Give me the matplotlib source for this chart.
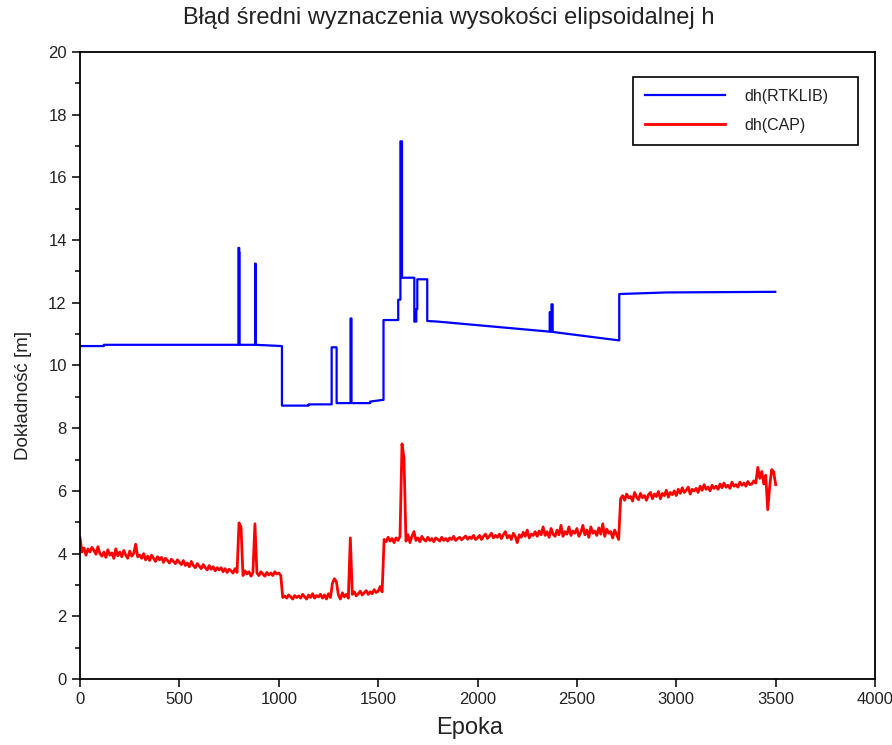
import numpy as np
import matplotlib
matplotlib.use('Agg')
import matplotlib.pyplot as plt
from matplotlib.ticker import MultipleLocator

plt.rcParams['font.family'] = ['Liberation Sans', 'DejaVu Sans']

# RTKLIB - step-like series (epoch, value)
rtk_epochs = [0, 120, 120, 797, 797, 801, 801, 803, 803, 881, 881, 884, 884,
              1016, 1016, 1150, 1150, 1266, 1266, 1291, 1291, 1361, 1361, 1366,
              1366, 1460, 1460, 1520, 1527, 1527, 1601, 1601, 1612, 1612, 1620,
              1620, 1682, 1682, 1692, 1692, 1697, 1697, 1747, 1747, 1800, 2363,
              2363, 2368, 2368, 2372, 2372, 2378, 2378, 2713, 2713, 2950, 3498]
rtk_values = [10.62, 10.62, 10.66, 10.66, 13.75, 13.75, 13.6, 13.6, 10.66, 10.66,
              13.25, 13.25, 10.66, 10.62, 8.72, 8.72, 8.76, 8.76, 10.58, 10.58,
              8.8, 8.8, 11.5, 11.5, 8.8, 8.8, 8.85, 8.9, 8.9, 11.45, 11.45, 12.1,
              12.1, 17.15, 17.15, 12.8, 12.8, 11.4, 11.4, 11.8, 11.8, 12.75,
              12.75, 11.42, 11.40, 11.08, 11.7, 11.7, 11.08, 11.08, 11.95, 11.95,
              11.07, 10.8, 12.28, 12.33, 12.35]

# CAP - one value every 10 epochs
cap_step = 10
cap_values = [
    4.50, 4.05, 4.18, 3.95, 4.15, 4.05, 4.20, 4.10, 3.98, 4.22,
    4.00, 3.92, 4.05, 3.88, 4.12, 3.95, 4.02, 3.85, 4.15, 3.93,
    4.05, 3.90, 4.10, 3.95, 3.85, 4.08, 3.92, 4.00, 4.30, 3.90,
    3.95, 3.85, 4.00, 3.80, 3.92, 3.78, 3.95, 3.85, 3.75, 3.90,
    3.80, 3.88, 3.72, 3.85, 3.78, 3.70, 3.82, 3.75, 3.68, 3.80,
    3.72, 3.65, 3.78, 3.62, 3.70, 3.58, 3.75, 3.62, 3.55, 3.68,
    3.60, 3.52, 3.65, 3.55, 3.48, 3.62, 3.50, 3.58, 3.45, 3.55,
    3.48, 3.55, 3.42, 3.52, 3.40, 3.50, 3.45, 3.38, 3.52, 3.40,
    4.98, 4.85, 3.30, 3.45, 3.35, 3.42, 3.28, 3.40, 4.95, 3.38,
    3.30, 3.42, 3.35, 3.28, 3.40, 3.32, 3.38, 3.30, 3.42, 3.35,
    3.38, 3.30, 2.60, 2.65, 2.58, 2.68, 2.62, 2.55, 2.66, 2.60,
    2.65, 2.58, 2.70, 2.62, 2.55, 2.68, 2.60, 2.72, 2.58, 2.66,
    2.62, 2.70, 2.58, 2.68, 2.55, 2.72, 2.60, 3.05, 3.20, 3.10,
    2.68, 2.55, 2.75, 2.62, 2.70, 2.58, 4.50, 2.70, 2.78, 2.65,
    2.72, 2.80, 2.68, 2.75, 2.82, 2.70, 2.78, 2.72, 2.85, 2.76,
    2.80, 2.95, 2.78, 4.45, 4.38, 4.52, 4.40, 4.48, 4.35, 4.50,
    4.42, 4.55, 7.50, 7.05, 4.40, 4.60, 4.35, 4.55, 4.70, 4.42,
    4.50, 4.38, 4.55, 4.45, 4.40, 4.52, 4.42, 4.48, 4.38, 4.50,
    4.45, 4.40, 4.52, 4.42, 4.48, 4.40, 4.50, 4.45, 4.55, 4.42,
    4.48, 4.52, 4.44, 4.50, 4.56, 4.46, 4.53, 4.48, 4.58, 4.45,
    4.50, 4.58, 4.45, 4.55, 4.62, 4.48, 4.56, 4.65, 4.50, 4.58,
    4.52, 4.62, 4.48, 4.60, 4.70, 4.50, 4.58, 4.45, 4.65, 4.55,
    4.35, 4.60, 4.52, 4.68, 4.55, 4.75, 4.50, 4.62, 4.58, 4.70,
    4.55, 4.72, 4.60, 4.85, 4.58, 4.70, 4.52, 4.80, 4.62, 4.55,
    4.75, 4.60, 4.90, 4.55, 4.70, 4.62, 4.85, 4.58, 4.72, 4.65,
    4.80, 4.55, 4.68, 4.90, 4.60, 4.75, 4.52, 4.85, 4.65, 4.72,
    4.58, 4.82, 4.62, 4.95, 4.55, 4.78, 4.65, 4.70, 4.50, 4.75,
    4.60, 4.45, 5.75, 5.85, 5.70, 5.90, 5.78, 5.82, 5.68, 5.95,
    5.80, 5.72, 5.92, 5.78, 5.85, 5.70, 5.88, 5.95, 5.75, 5.90,
    5.82, 5.98, 5.75, 5.92, 5.85, 6.02, 5.80, 5.95, 5.88, 6.00,
    5.85, 6.05, 5.92, 6.10, 5.95, 6.02, 6.12, 5.90, 6.05, 6.00,
    6.08, 5.95, 6.15, 6.02, 6.20, 6.05, 6.12, 6.00, 6.18, 6.08,
    6.15, 6.05, 6.22, 6.10, 6.25, 6.12, 6.18, 6.08, 6.28, 6.15,
    6.20, 6.12, 6.28, 6.18, 6.25, 6.15, 6.30, 6.20, 6.22, 6.32,
    6.25, 6.75, 6.40, 6.62, 6.22, 6.50, 5.40, 6.15, 6.68, 6.60,
    6.20,
]
cap_epochs = np.arange(len(cap_values)) * cap_step

fig = plt.figure(figsize=(8.92, 7.45), dpi=100)
ax = fig.add_axes([0.0897, 0.0886, 0.8913, 0.8416])

ax.plot(rtk_epochs, rtk_values, color='#0000ff', lw=1.6, label='dh(RTKLIB)')
ax.plot(cap_epochs, cap_values, color='#ff0000', lw=2.0, label='dh(CAP)')

ax.set_xlim(0, 4000)
ax.set_ylim(0, 20)
ax.xaxis.set_major_locator(MultipleLocator(500))
ax.yaxis.set_major_locator(MultipleLocator(2))
ax.yaxis.set_minor_locator(MultipleLocator(1))
ax.tick_params(which='major', direction='out', length=6, width=1.1, labelsize=12,
               labelcolor='#222222', top=False, right=False)
ax.tick_params(which='minor', direction='out', length=3.5, width=1.1,
               top=False, right=False)
for s in ax.spines.values():
    s.set_linewidth(1.3)

fig.text(449 / 892, 1 - 18 / 745, 'Błąd średni wyznaczenia wysokości elipsoidalnej h',
         fontsize=17, ha='center', va='center', color='#222222')
ax.set_xlabel('Epoka', fontsize=17, color='#222222')
ax.xaxis.set_label_coords(0.49, -0.061)
ax.set_ylabel('Dokładność [m]', fontsize=13.5, color='#222222')
ax.yaxis.set_label_coords(-0.06, 0.453)

leg = ax.legend(loc='upper left', bbox_to_anchor=(0.696, 0.858, 0.282, 0.102),
                mode='expand', borderaxespad=0, fancybox=False, edgecolor='black',
                framealpha=1, fontsize=11.5, handlelength=5, handletextpad=1.2,
                borderpad=0.75, labelspacing=0.85)
leg.get_frame().set_linewidth(1.2)
for t in leg.get_texts():
    t.set_color('#222222')

fig.savefig('out.png', dpi=100)
